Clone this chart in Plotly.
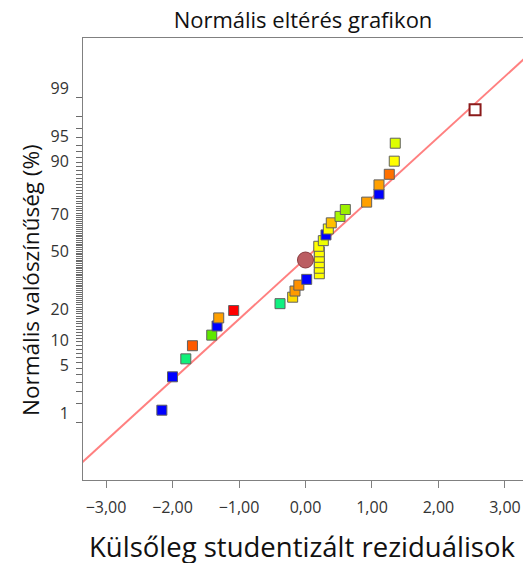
import plotly.graph_objects as go
from statistics import NormalDist

# --- data (sorted by residual; probability in %) ---
residuals = [-2.16, -2.00, -1.80, -1.70, -1.41, -1.33, -1.305, -1.08,
             -0.383, -0.193, -0.158, -0.10, 0.018,
             0.208, 0.208, 0.208, 0.208, 0.208, 0.20,
             0.268, 0.308, 0.343, 0.388, 0.519, 0.599,
             0.92, 1.105, 1.105, 1.26, 1.335, 1.35]
probs = [1.56, 4.69, 7.81, 10.94, 14.06, 17.19, 20.31, 23.44,
         26.56, 29.69, 32.81, 35.94, 39.06,
         42.19, 45.31, 48.44, 51.56, 54.69, 57.81,
         60.94, 64.06, 67.19, 70.31, 73.44, 76.56,
         79.69, 82.81, 85.94, 89.06, 92.19, 95.31]
point_colors = ["#0000ff", "#0000ff", "#10f07a", "#ff5a00", "#5ee800", "#0000ff", "#ffa000", "#ff0000",
                "#10f080", "#ffdc00", "#ff9a00", "#ff9000", "#0000ff",
                "#ffff00", "#ffff00", "#ffff00", "#ffff00", "#ffff00", "#ffff00",
                "#eeff00", "#0000ff", "#ffff00", "#ffc000", "#a8f800", "#9cf000",
                "#ffa000", "#0000ff", "#ffa000", "#ff7000", "#ffff00", "#ddff00"]

outlier_x = [2.55]
outlier_p = [98.44]

center_x = [0.0]
center_p = [50.0]

# normal reference line: z = slope * x + intercept
line_slope = 0.871
line_intercept = 0.022
line_x = [-3.6, 3.6]

y_label_vals = [1, 5, 10, 20, 50, 70, 90, 95, 99]
y_tick_vals = list(range(1, 100))
x_tick_vals = [-3, -2, -1, 0, 1, 2, 3]

nd = NormalDist()
def z(p):
    return nd.inv_cdf(p / 100.0)

Y_RANGE = [-3.156, 3.185]
X_RANGE = [-3.346, 3.271]
PLOT_W = 440  # plot-area width in px (523 - 83)

fig = go.Figure()

fig.add_trace(go.Scatter(
    x=line_x, y=[line_slope * v + line_intercept for v in line_x],
    mode="lines", line=dict(color="#ff8080", width=2), hoverinfo="skip", showlegend=False))

fig.add_trace(go.Scatter(
    x=residuals, y=[z(p) for p in probs], mode="markers",
    marker=dict(symbol="square", size=10, color=point_colors,
                line=dict(color="#606060", width=1)),
    showlegend=False))

fig.add_trace(go.Scatter(
    x=outlier_x, y=[z(p) for p in outlier_p], mode="markers",
    marker=dict(symbol="square", size=11, color="white",
                line=dict(color="#8b1a1a", width=2)),
    showlegend=False))

fig.add_trace(go.Scatter(
    x=center_x, y=[z(p) for p in center_p], mode="markers",
    marker=dict(symbol="circle", size=16, color="#bb5d62",
                line=dict(color="#8a3c40", width=1)),
    showlegend=False))

fig.update_layout(
    width=523, height=563,
    margin=dict(l=83, r=0, t=38, b=83),
    paper_bgcolor="white", plot_bgcolor="white",
    separators=", ",
    font=dict(family="Open Sans", color="#222"),
    title=dict(text="Normális eltérés grafikon", x=303 / 523, xanchor="center",
               y=1 - 20 / 563, yanchor="middle", font=dict(size=22, color="#111")),
    xaxis=dict(
        range=X_RANGE, showgrid=False, zeroline=False,
        showline=True, linecolor="#808080", linewidth=1, mirror=True,
        tickvals=x_tick_vals, tickformat=".2f",
        ticks="outside", ticklen=7, tickcolor="#808080", ticklabelstandoff=6,
        tickfont=dict(size=16, color="#333"),
    ),
    yaxis=dict(
        range=Y_RANGE, showgrid=False, zeroline=False,
        showline=True, linecolor="#808080", linewidth=1, mirror=False,
        tickmode="array", tickvals=[z(p) for p in y_tick_vals],
        ticktext=[str(p) if p in y_label_vals else "" for p in y_tick_vals],
        ticks="outside", ticklen=6, tickwidth=1, tickcolor="#6a6a6a",
        ticklabelshift=-9, ticklabelstandoff=4,
        tickfont=dict(size=16, color="#333"),
    ),
    annotations=[
        dict(text="Normális valószínűség (%)", xref="paper", yref="paper",
             x=(30 - 83) / PLOT_W, y=(480 - 280) / 442, xanchor="center", yanchor="middle",
             textangle=-90, showarrow=False, font=dict(size=22.5, color="#111")),
        dict(text="Külsőleg studentizált reziduálisok", xref="paper", yref="paper",
             x=(302 - 83) / PLOT_W, y=(480 - 546) / 442, xanchor="center", yanchor="middle",
             showarrow=False, font=dict(size=27.5, color="#111")),
    ],
)

fig.write_html("out.html")
